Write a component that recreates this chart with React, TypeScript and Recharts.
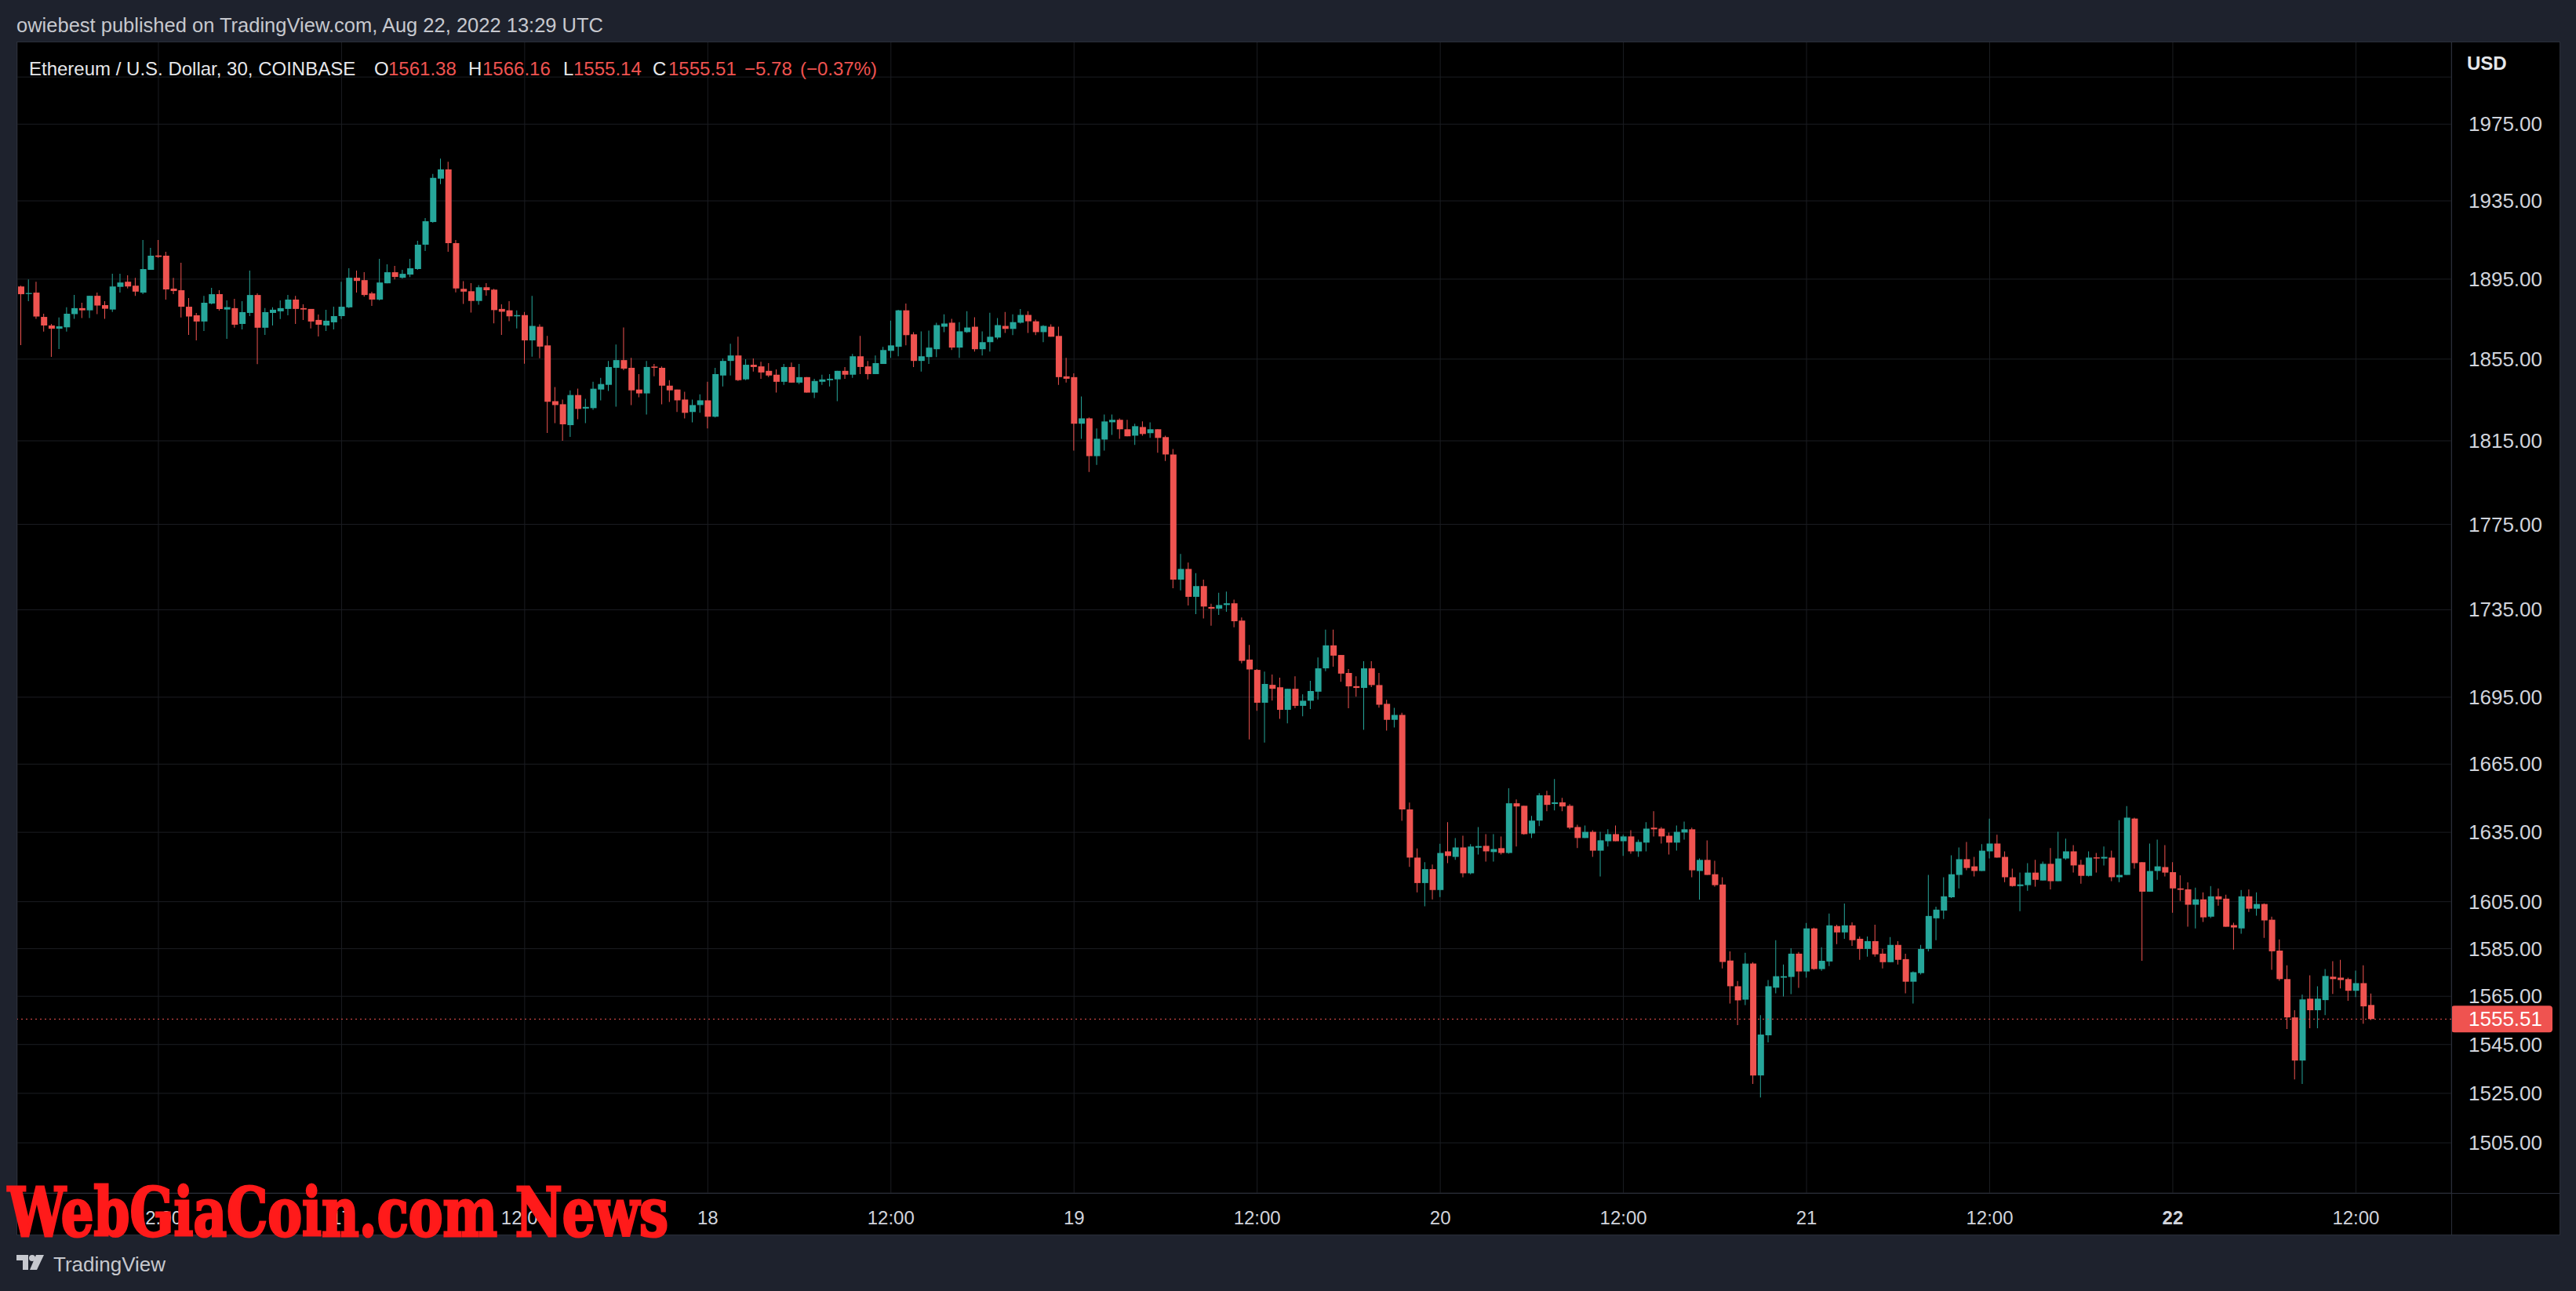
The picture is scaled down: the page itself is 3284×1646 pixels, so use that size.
import React from 'react';
import { ComposedChart, Bar, XAxis, YAxis, CartesianGrid, ReferenceLine, Cell } from 'recharts';

// ETH/USD 30m candles, Aug 16 03:00 -> Aug 22 13:00
const OPEN = [
  1891.3, 1887.5, 1888.2, 1876.0, 1871.7, 1870.1, 1870.8, 1877.4, 1880.4, 1879.3,
  1886.6, 1881.9, 1879.7, 1891.1, 1893.7, 1891.7, 1888.2, 1899.7, 1907.0, 1906.9,
  1890.2, 1889.4, 1881.1, 1876.8, 1873.7, 1882.7, 1887.4, 1879.7, 1880.4, 1872.5,
  1878.0, 1887.0, 1870.6, 1878.0, 1878.8, 1880.0, 1884.7, 1880.4, 1880.0, 1874.5,
  1871.7, 1873.3, 1876.4, 1880.8, 1895.7, 1894.5, 1887.8, 1884.7, 1892.9, 1898.5,
  1895.7, 1897.3, 1900.1, 1912.5, 1924.1, 1946.5, 1951.3, 1913.3, 1890.1, 1888.9,
  1884.0, 1890.9, 1889.7, 1880.0, 1879.3, 1876.3, 1876.9, 1864.3, 1871.1, 1861.8,
  1834.3, 1832.8, 1822.6, 1837.3, 1830.7, 1830.9, 1840.0, 1842.3, 1850.7, 1854.5,
  1850.7, 1840.0, 1838.1, 1851.3, 1850.7, 1841.9, 1840.0, 1835.1, 1829.0, 1832.4,
  1834.7, 1826.7, 1846.9, 1854.1, 1856.8, 1845.0, 1852.2, 1851.4, 1849.2, 1847.3,
  1843.8, 1851.1, 1843.4, 1846.1, 1838.5, 1843.8, 1844.6, 1845.0, 1849.2, 1847.3,
  1856.4, 1851.4, 1847.6, 1852.6, 1859.1, 1861.1, 1879.3, 1867.3, 1854.1, 1856.0,
  1859.9, 1871.1, 1873.1, 1860.7, 1868.4, 1871.1, 1859.9, 1863.4, 1865.7, 1871.5,
  1870.0, 1873.1, 1877.0, 1873.8, 1868.4, 1871.1, 1866.5, 1846.5, 1846.1, 1823.3,
  1825.9, 1807.6, 1815.6, 1824.0, 1825.2, 1820.6, 1817.5, 1821.7, 1818.7, 1820.6,
  1816.8, 1808.4, 1749.0, 1754.0, 1741.0, 1746.0, 1736.3, 1735.5, 1737.2, 1738.0,
  1730.0, 1712.1, 1707.4, 1692.5, 1700.6, 1699.5, 1689.3, 1698.8, 1691.1, 1693.4,
  1697.5, 1708.1, 1718.6, 1714.2, 1706.0, 1700.0, 1699.2, 1708.1, 1700.5, 1692.0,
  1684.8, 1687.0, 1645.0, 1624.0, 1613.0, 1619.0, 1610.0, 1626.7, 1624.3, 1628.4,
  1617.2, 1628.3, 1629.1, 1626.4, 1628.1, 1626.0, 1647.7, 1646.6, 1634.5, 1640.1,
  1651.2, 1647.4, 1648.1, 1646.6, 1637.3, 1632.5, 1635.2, 1627.0, 1631.1, 1634.2,
  1631.1, 1633.2, 1626.7, 1630.5, 1637.0, 1636.6, 1633.5, 1630.5, 1634.9, 1636.3,
  1618.2, 1623.0, 1616.8, 1612.4, 1580.0, 1569.2, 1563.6, 1578.7, 1532.3, 1548.8,
  1568.6, 1572.8, 1573.1, 1582.9, 1575.4, 1593.6, 1576.4, 1579.6, 1594.6, 1591.9,
  1594.9, 1589.2, 1584.9, 1588.2, 1582.9, 1579.3, 1586.6, 1580.6, 1571.1, 1574.7,
  1584.9, 1597.9, 1601.2, 1606.9, 1616.5, 1623.3, 1620.2, 1618.2, 1626.7, 1630.1,
  1624.3, 1615.5, 1611.7, 1612.1, 1617.5, 1614.1, 1621.3, 1613.8, 1623.6, 1626.7,
  1620.9, 1616.1, 1624.1, 1623.6, 1624.0, 1615.5, 1616.5, 1641.0, 1622.0, 1609.3,
  1618.2, 1619.9, 1617.7, 1610.7, 1610.3, 1603.7, 1606.0, 1598.6, 1607.3, 1606.3,
  1595.0, 1593.6, 1607.3, 1602.0, 1604.0, 1597.3, 1584.2, 1572.2, 1556.2, 1538.4,
  1564.0, 1559.2, 1563.4, 1573.2, 1572.8, 1572.2, 1567.3, 1570.5, 1561.38,
];

const HIGH = [
  1891.7, 1894.9, 1893.7, 1877.6, 1872.5, 1875.7, 1880.8, 1887.0, 1883.1, 1886.6,
  1888.2, 1883.9, 1897.7, 1897.7, 1896.9, 1895.7, 1914.9, 1910.9, 1914.9, 1908.9,
  1895.7, 1903.3, 1885.5, 1878.0, 1886.6, 1890.6, 1889.4, 1884.3, 1885.1, 1883.9,
  1899.3, 1887.8, 1880.4, 1880.8, 1884.3, 1887.0, 1886.6, 1882.3, 1880.0, 1877.2,
  1879.6, 1881.1, 1893.7, 1900.5, 1899.3, 1898.5, 1888.6, 1905.3, 1902.5, 1901.7,
  1899.7, 1905.3, 1914.5, 1926.1, 1948.9, 1956.9, 1955.3, 1914.9, 1894.0, 1893.0,
  1892.0, 1893.0, 1890.1, 1882.3, 1883.9, 1879.3, 1878.5, 1886.6, 1872.3, 1866.5,
  1841.2, 1835.1, 1839.6, 1840.4, 1835.4, 1843.8, 1845.7, 1854.1, 1862.2, 1870.7,
  1855.6, 1847.6, 1854.1, 1852.6, 1851.4, 1844.6, 1840.0, 1838.9, 1835.1, 1837.7,
  1843.8, 1850.7, 1855.3, 1862.6, 1866.1, 1854.9, 1855.3, 1853.7, 1853.0, 1849.9,
  1852.6, 1853.3, 1852.6, 1846.1, 1845.3, 1847.3, 1847.6, 1849.2, 1851.1, 1857.6,
  1866.5, 1854.1, 1856.8, 1861.1, 1874.2, 1879.6, 1882.7, 1868.4, 1868.8, 1869.2,
  1873.1, 1877.3, 1875.0, 1873.4, 1878.9, 1875.8, 1868.8, 1878.1, 1875.4, 1878.5,
  1877.3, 1880.0, 1878.9, 1874.6, 1871.9, 1872.3, 1871.1, 1855.6, 1848.0, 1836.6,
  1826.3, 1821.0, 1827.8, 1827.8, 1825.9, 1825.2, 1823.3, 1824.4, 1824.0, 1820.6,
  1817.5, 1811.0, 1761.0, 1757.0, 1752.0, 1749.0, 1737.8, 1742.9, 1743.4, 1739.7,
  1731.4, 1718.8, 1707.8, 1706.6, 1705.3, 1703.9, 1698.8, 1704.5, 1696.3, 1702.4,
  1713.1, 1725.8, 1725.8, 1714.2, 1707.8, 1704.5, 1711.4, 1711.4, 1706.0, 1693.8,
  1690.2, 1688.0, 1648.0, 1628.0, 1622.0, 1621.0, 1630.0, 1639.4, 1632.5, 1633.5,
  1629.8, 1637.3, 1634.2, 1634.2, 1633.2, 1654.3, 1649.4, 1646.6, 1642.2, 1652.2,
  1653.2, 1658.4, 1650.1, 1647.3, 1638.3, 1638.0, 1635.9, 1635.2, 1636.3, 1638.0,
  1633.9, 1635.9, 1631.8, 1639.4, 1644.2, 1637.3, 1634.9, 1638.0, 1639.7, 1637.0,
  1623.6, 1631.5, 1622.6, 1615.5, 1583.9, 1571.4, 1583.3, 1579.3, 1557.2, 1571.8,
  1588.6, 1578.3, 1585.2, 1583.6, 1595.9, 1593.9, 1585.6, 1599.9, 1595.2, 1604.2,
  1596.2, 1590.2, 1590.2, 1595.2, 1584.9, 1589.9, 1588.2, 1582.9, 1575.4, 1586.6,
  1616.5, 1602.9, 1615.5, 1625.0, 1628.4, 1630.8, 1624.3, 1629.8, 1641.0, 1633.9,
  1626.7, 1619.2, 1617.5, 1621.6, 1623.0, 1622.3, 1628.1, 1635.2, 1632.2, 1629.4,
  1623.0, 1626.7, 1626.0, 1628.8, 1627.0, 1640.3, 1646.5, 1641.4, 1622.0, 1630.1,
  1631.8, 1629.4, 1622.0, 1616.3, 1613.3, 1611.0, 1609.0, 1611.7, 1610.7, 1608.0,
  1596.0, 1610.0, 1610.3, 1609.0, 1604.3, 1598.6, 1588.9, 1578.0, 1559.2, 1565.7,
  1573.8, 1569.2, 1576.4, 1579.7, 1580.3, 1572.8, 1575.8, 1578.0, 1566.16,
];

const LOW = [
  1861.9, 1883.9, 1875.0, 1868.7, 1856.1, 1860.0, 1868.7, 1875.0, 1875.4, 1875.4,
  1877.4, 1875.0, 1878.5, 1888.2, 1890.3, 1886.6, 1887.4, 1899.7, 1905.8, 1884.7,
  1887.4, 1875.7, 1867.0, 1864.3, 1869.0, 1882.3, 1879.2, 1865.1, 1870.6, 1869.8,
  1876.4, 1852.5, 1867.0, 1871.7, 1874.9, 1876.8, 1872.5, 1874.5, 1870.2, 1866.2,
  1869.0, 1869.8, 1874.9, 1880.4, 1888.2, 1886.2, 1881.5, 1884.3, 1892.9, 1894.9,
  1895.3, 1896.1, 1899.7, 1909.3, 1923.7, 1943.7, 1908.9, 1888.3, 1882.5, 1878.2,
  1882.1, 1886.7, 1872.8, 1867.0, 1873.9, 1870.2, 1852.7, 1856.2, 1855.4, 1818.8,
  1823.6, 1815.0, 1816.9, 1825.5, 1823.6, 1830.1, 1834.7, 1839.3, 1831.6, 1849.5,
  1832.4, 1836.2, 1827.8, 1846.5, 1832.8, 1833.9, 1829.0, 1825.9, 1824.0, 1828.6,
  1821.0, 1826.3, 1841.5, 1846.9, 1844.2, 1844.6, 1848.8, 1845.3, 1846.1, 1838.5,
  1842.3, 1843.4, 1842.7, 1838.5, 1835.8, 1842.3, 1841.5, 1834.3, 1845.3, 1845.7,
  1847.6, 1845.0, 1847.6, 1852.6, 1855.6, 1856.4, 1861.8, 1851.1, 1848.8, 1852.6,
  1856.0, 1868.4, 1859.5, 1855.6, 1868.0, 1858.7, 1856.8, 1858.7, 1864.9, 1868.0,
  1866.9, 1872.7, 1868.0, 1866.9, 1863.4, 1866.1, 1842.3, 1843.4, 1810.3, 1816.0,
  1800.0, 1803.4, 1810.3, 1817.9, 1816.0, 1817.2, 1813.0, 1817.5, 1816.4, 1809.2,
  1805.3, 1745.0, 1744.0, 1737.0, 1733.0, 1731.0, 1727.6, 1732.6, 1734.1, 1726.9,
  1710.4, 1676.0, 1688.9, 1674.6, 1693.5, 1685.2, 1683.2, 1690.0, 1686.4, 1689.7,
  1693.9, 1706.8, 1708.9, 1702.0, 1690.0, 1695.2, 1680.3, 1699.6, 1690.3, 1680.0,
  1681.4, 1640.0, 1620.0, 1609.0, 1603.0, 1606.0, 1607.0, 1621.6, 1623.0, 1615.5,
  1616.8, 1625.3, 1622.3, 1622.3, 1625.3, 1625.7, 1628.8, 1633.9, 1632.5, 1637.7,
  1644.2, 1644.6, 1644.2, 1636.3, 1628.1, 1632.5, 1624.3, 1615.8, 1628.8, 1631.1,
  1624.7, 1625.7, 1624.3, 1626.7, 1633.2, 1630.1, 1625.3, 1627.0, 1631.8, 1615.5,
  1605.9, 1616.5, 1611.4, 1576.7, 1562.0, 1553.0, 1561.3, 1528.8, 1523.3, 1545.9,
  1566.2, 1564.9, 1565.9, 1568.5, 1572.8, 1576.1, 1575.7, 1577.7, 1586.9, 1589.2,
  1586.2, 1580.3, 1581.6, 1581.6, 1576.7, 1579.3, 1578.3, 1566.2, 1562.0, 1574.1,
  1583.9, 1588.6, 1597.6, 1606.6, 1610.7, 1618.5, 1615.8, 1618.2, 1623.6, 1624.0,
  1613.4, 1611.4, 1600.9, 1609.7, 1611.4, 1614.1, 1610.3, 1613.8, 1623.0, 1617.5,
  1612.7, 1615.8, 1617.5, 1620.6, 1613.8, 1613.4, 1616.5, 1619.2, 1579.9, 1609.3,
  1614.4, 1615.8, 1600.3, 1605.3, 1594.3, 1593.6, 1596.3, 1598.0, 1603.3, 1594.3,
  1584.6, 1591.3, 1600.6, 1599.0, 1589.6, 1576.1, 1571.5, 1551.4, 1530.7, 1528.8,
  1551.7, 1551.7, 1557.2, 1566.0, 1568.3, 1563.1, 1564.7, 1553.6, 1555.14,
];

const CLOSE = [
  1887.4, 1888.0, 1876.2, 1871.7, 1870.1, 1871.3, 1877.6, 1880.4, 1879.3, 1886.6,
  1881.7, 1880.1, 1891.3, 1893.3, 1891.3, 1888.7, 1900.1, 1906.9, 1906.3, 1889.8,
  1889.0, 1881.1, 1876.2, 1873.7, 1883.1, 1887.4, 1880.0, 1880.9, 1872.1, 1878.4,
  1887.0, 1870.6, 1878.4, 1879.6, 1880.4, 1884.7, 1880.0, 1879.7, 1873.7, 1872.1,
  1874.1, 1876.4, 1881.1, 1895.7, 1894.1, 1887.0, 1884.7, 1893.3, 1898.5, 1896.1,
  1897.7, 1900.5, 1912.5, 1924.5, 1946.9, 1951.3, 1913.3, 1890.3, 1888.7, 1884.0,
  1890.9, 1889.4, 1879.4, 1878.6, 1876.3, 1876.9, 1864.3, 1871.5, 1861.2, 1834.0,
  1832.4, 1823.0, 1837.3, 1830.5, 1831.5, 1840.4, 1842.7, 1851.1, 1854.5, 1850.3,
  1839.6, 1838.1, 1851.1, 1850.7, 1841.9, 1839.6, 1834.7, 1828.6, 1832.4, 1834.7,
  1826.7, 1847.6, 1854.1, 1856.8, 1844.6, 1852.2, 1851.1, 1848.4, 1846.9, 1843.8,
  1851.1, 1843.4, 1846.1, 1838.5, 1844.2, 1845.0, 1845.3, 1849.2, 1847.3, 1856.4,
  1851.1, 1847.6, 1853.0, 1859.5, 1861.8, 1879.3, 1866.9, 1854.1, 1856.4, 1860.7,
  1871.9, 1872.7, 1860.7, 1868.8, 1870.7, 1859.9, 1863.4, 1866.1, 1871.9, 1870.0,
  1873.4, 1877.0, 1873.8, 1868.4, 1871.5, 1866.1, 1846.1, 1845.3, 1823.3, 1825.9,
  1807.6, 1816.0, 1824.4, 1825.2, 1820.6, 1817.2, 1822.1, 1818.3, 1820.6, 1816.4,
  1808.4, 1749.0, 1754.0, 1741.0, 1746.0, 1736.5, 1735.5, 1737.2, 1738.0, 1729.7,
  1711.5, 1707.6, 1692.5, 1701.0, 1698.8, 1689.3, 1698.8, 1691.1, 1693.4, 1697.8,
  1708.1, 1718.6, 1713.9, 1705.7, 1699.9, 1699.2, 1708.1, 1700.5, 1691.6, 1684.8,
  1687.0, 1645.0, 1624.0, 1613.0, 1619.0, 1610.0, 1626.0, 1624.7, 1628.4, 1617.2,
  1628.8, 1629.0, 1626.7, 1627.7, 1626.0, 1647.7, 1646.3, 1634.2, 1640.1, 1651.2,
  1647.0, 1648.1, 1646.3, 1637.0, 1632.5, 1635.2, 1627.0, 1631.5, 1634.2, 1631.1,
  1633.2, 1626.7, 1630.8, 1636.6, 1636.3, 1633.2, 1630.5, 1635.2, 1636.3, 1618.5,
  1623.0, 1616.5, 1612.1, 1579.4, 1569.2, 1563.3, 1578.7, 1532.3, 1549.1, 1569.2,
  1573.4, 1573.4, 1582.9, 1575.4, 1593.6, 1576.4, 1579.9, 1594.9, 1591.9, 1594.9,
  1588.6, 1584.9, 1588.2, 1582.6, 1579.3, 1586.6, 1580.3, 1571.1, 1575.1, 1584.9,
  1598.9, 1601.6, 1607.3, 1616.8, 1623.3, 1619.5, 1618.2, 1627.0, 1630.1, 1624.0,
  1615.5, 1611.7, 1612.4, 1617.5, 1614.4, 1621.3, 1613.8, 1623.6, 1626.7, 1620.6,
  1616.1, 1624.0, 1623.6, 1624.3, 1615.5, 1616.5, 1641.4, 1621.6, 1609.3, 1618.2,
  1620.2, 1617.5, 1610.7, 1610.1, 1603.7, 1606.0, 1598.3, 1607.3, 1606.0, 1594.3,
  1594.0, 1607.3, 1602.0, 1604.0, 1597.0, 1583.9, 1572.2, 1556.2, 1538.4, 1563.7,
  1559.2, 1564.0, 1573.5, 1572.2, 1571.8, 1567.3, 1570.5, 1560.8, 1555.51,
];

// empty slots after the last candle (right margin of the chart)
const EMPTY_SLOTS = 10;

const TIME_TICKS = [18, 42, 66, 90, 114, 138, 162, 186, 210, 234, 258, 282, 306];
const TIME_LABELS = ['12:00', '17', '12:00', '18', '12:00', '19', '12:00', '20', '12:00', '21', '12:00', '22', '12:00'];
const PRICE_TICKS = [1505, 1525, 1545, 1565, 1585, 1605, 1635, 1665, 1695, 1735, 1775, 1815, 1855, 1895, 1935, 1975, 2000];
const LAST_PRICE = 1555.51;

const UP = '#26a69a';
const DOWN = '#ef5350';
const GRID = '#1b1d22';
const BORDER = '#2a2e39';
const TEXT = '#d1d4dc';
const FONT = '"Liberation Sans", Arial, sans-serif';

const candles = Array.from({ length: OPEN.length + EMPTY_SLOTS }, (_, i) => {
  if (i >= OPEN.length) return { i, body: null, wick: null, up: true };
  const o = OPEN[i];
  const c = CLOSE[i];
  return { i, body: [Math.min(o, c), Math.max(o, c)], wick: [LOW[i], HIGH[i]], up: c >= o };
});

// time axis band: chart y 1468..1522, labels centred in it
const TimeTick = (props: any) => {
  const { x, payload } = props;
  const label = TIME_LABELS[TIME_TICKS.indexOf(payload.value)];
  return (
    <text x={x} y={1499} textAnchor="middle" dominantBaseline="central" fill={TEXT}
      fontSize={24} fontWeight={label === '22' ? 700 : 400} fontFamily={FONT}>
      {label}
    </text>
  );
};

const PriceTick = (props: any) => {
  const { x, y, payload } = props;
  if (payload.value === 2000) return <g />;
  return (
    <text x={x} y={y} textAnchor="start" dominantBaseline="central" fill={TEXT} fontSize={26} fontFamily={FONT}>
      {payload.value.toFixed(2)}
    </text>
  );
};

const LastPriceTag = (props: any) => {
  const { viewBox } = props;
  const x = viewBox.x + viewBox.width;
  const y = viewBox.y;
  return (
    <g>
      <rect x={x} y={y - 17} width={129} height={34} rx={4} fill={DOWN} />
      <text x={x + 22} y={y} dominantBaseline="central" fill="#ffffff" fontSize={26} fontFamily={FONT}>
        {LAST_PRICE.toFixed(2)}
      </text>
    </g>
  );
};

const legend = [
  { x: 37, t: 'Ethereum / U.S. Dollar, 30, COINBASE', c: '#e6e7ea' },
  { x: 477, t: 'O', c: '#e6e7ea' },
  { x: 495, t: '1561.38', c: DOWN },
  { x: 597, t: 'H', c: '#e6e7ea' },
  { x: 615, t: '1566.16', c: DOWN },
  { x: 718, t: 'L', c: '#e6e7ea' },
  { x: 731, t: '1555.14', c: DOWN },
  { x: 832, t: 'C', c: '#e6e7ea' },
  { x: 852, t: '1555.51', c: DOWN },
  { x: 949, t: '\u22125.78', c: DOWN },
  { x: 1020, t: '(\u22120.37%)', c: DOWN },
];

export default function App() {
  return (
    <div style={{ position: 'absolute', left: 0, top: 0, width: 3284, height: 1646, background: '#1e222d', overflow: 'hidden' }}>
      <div style={{ position: 'absolute', left: 21, top: 53, width: 3243, height: 1522, background: '#000000' }}>
        <ComposedChart width={3243} height={1522} data={candles} margin={{ top: 0, right: 0, bottom: 0, left: 1 }}>
          <CartesianGrid stroke={GRID} xAxisId="x" yAxisId="y" />
          <XAxis xAxisId="x" dataKey="i" type="category" ticks={TIME_TICKS} interval={0} tick={<TimeTick />}
            tickSize={0} tickMargin={0} height={54} axisLine={false} />
          <XAxis xAxisId="w" dataKey="i" type="category" hide />
          <YAxis yAxisId="y" orientation="right" scale="log" domain={[1485, 2019]} allowDataOverflow
            ticks={PRICE_TICKS} interval={0} tick={<PriceTick />} tickSize={0} tickMargin={22} width={139} axisLine={false} />
          <Bar xAxisId="w" yAxisId="y" dataKey="wick" barSize={1} isAnimationActive={false}>
            {candles.map((d) => <Cell key={`w${d.i}`} fill={d.up ? UP : DOWN} />)}
          </Bar>
          <Bar xAxisId="x" yAxisId="y" dataKey="body" barSize={8} isAnimationActive={false}>
            {candles.map((d) => <Cell key={`b${d.i}`} fill={d.up ? UP : DOWN} />)}
          </Bar>
          <ReferenceLine xAxisId="x" yAxisId="y" y={LAST_PRICE} stroke={DOWN} strokeDasharray="2 4" label={<LastPriceTag />} />
        </ComposedChart>
      </div>

      <svg width={3284} height={1646} style={{ position: 'absolute', left: 0, top: 0 }}>
        {/* panel frame and axis separators */}
        <rect x={21.5} y={53.5} width={3242} height={1521} fill="none" stroke={BORDER} />
        <line x1={3125.5} y1={53} x2={3125.5} y2={1575} stroke={BORDER} />
        <line x1={21} y1={1521.5} x2={3264} y2={1521.5} stroke={BORDER} />

        <text x={21} y={32} dominantBaseline="central" fill="#c6c8ce" fontSize={25.5} fontFamily={FONT}>
          owiebest published on TradingView.com, Aug 22, 2022 13:29 UTC
        </text>

        {legend.map((s) => (
          <text key={s.x} x={s.x} y={87} dominantBaseline="central" fill={s.c} fontSize={24} fontFamily={FONT}>
            {s.t}
          </text>
        ))}

        <text x={3145} y={80} dominantBaseline="central" fill="#e6e7ea" fontSize={24} fontWeight={700} fontFamily={FONT}>USD</text>

        {/* TradingView logo */}
        <g fill="#c6c8ce">
          <path d="M21 1600 H36 V1619 H29 V1607 H21 Z" />
          <circle cx={41} cy={1604} r={4} />
          <path d="M46 1600 H56 L47 1619 H38 Z" />
        </g>
        <text x={68} y={1612} dominantBaseline="central" fill="#c6c8ce" fontSize={26} fontFamily={FONT}>TradingView</text>

        {/* watermark */}
        <text x={10} y={1576} fill="#ff1a1a" stroke="#ff1a1a" strokeWidth={3} fontSize={86} fontWeight={700}
          fontFamily='"DejaVu Serif", serif' textLength={842} lengthAdjust="spacingAndGlyphs" style={{ fontStretch: 'condensed' }}>
          WebGiaCoin.com News
        </text>
      </svg>
    </div>
  );
}
